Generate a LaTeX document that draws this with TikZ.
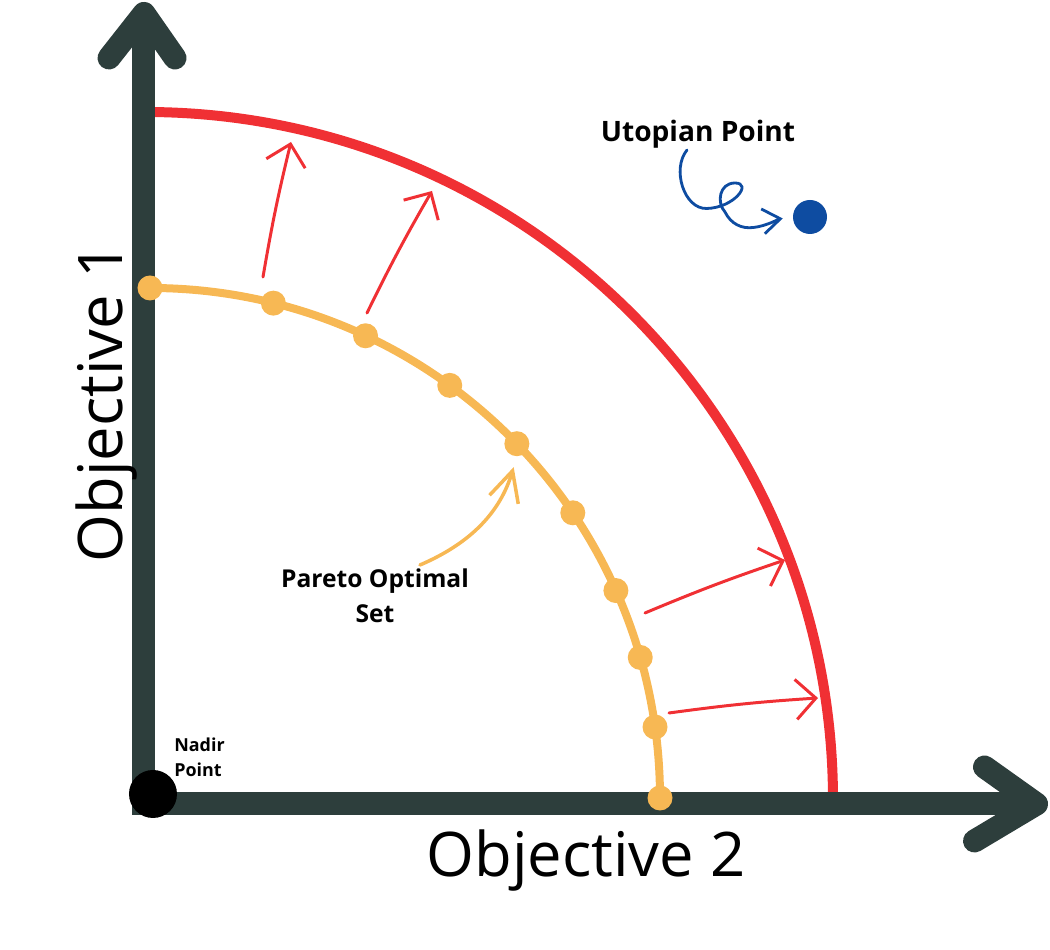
\documentclass[tikz,border=0pt]{standalone}
\usepackage{fontspec}
\setmainfont{Open Sans}
\usetikzlibrary{arrows.meta}
\definecolor{axisgray}{RGB}{45,62,60}
\definecolor{frontred}{RGB}{240,48,52}
\definecolor{paretoyel}{RGB}{247,184,84}
\definecolor{utoblue}{RGB}{14,76,161}
\tikzset{
  axisline/.style = {draw=axisgray, line width=0.46cm},% axes
  axishead/.style = {axisline, line cap=round, line join=round},% axis tips
  frontline/.style = {draw=frontred, line width=0.2cm},% shifted front
  paretoline/.style = {draw=paretoyel, line width=0.16cm},% pareto front
  pt_y/.style = {circle, fill=paretoyel, inner sep=0pt, minimum size=0.5cm},% pareto point
  pt_n/.style = {circle, fill=black, inner sep=0pt, minimum size=0.96cm},% nadir
  pt_u/.style = {circle, fill=utoblue, inner sep=0pt, minimum size=0.68cm},% utopia
  push/.style = {->, draw=frontred, line width=1.7pt, line cap=round},% red arrows
  lbl/.style = {inner sep=0pt},% labels
  axlbl/.style = {inner sep=0pt, font=\fontsize{35}{42}\selectfont}% axis names
}
\begin{document}
\begin{tikzpicture}[>={Straight Barb[length=4mm,width=8mm]}]
  \useasboundingbox (-2.88,-2.92) rectangle (18.12,16.08);
  \coordinate (o) at (0,0);
  \coordinate (ytip) at (0,15.81);
  \coordinate (xtip) at (17.85,0);
  \coordinate (rc) at (0.02,0.08);
  \coordinate (yc) at (0.12,0.12);

  % outer front
  \draw [frontline] ([shift={(0:13.76)}]rc) arc (0:90:13.76);

  % axes
  \draw [axisline] (ytip) -- (o) -- (xtip);
  \draw [axishead] ([shift={(-0.7,-0.89)}]ytip) -- (ytip) -- ([shift={(0.62,-0.89)}]ytip);
  \draw [axishead] ([shift={(-1.04,0.74)}]xtip) -- (xtip) -- ([shift={(-1.24,-0.74)}]xtip);

  % pareto front
  \draw [paretoline] ([shift={(0:10.2)}]yc) arc (0:90:10.2);
  \foreach \a [count=\i] in {90,76,65,54,44,34,24,16,8,0}
    \node [pt_y] (p\i) at ([shift={(\a:10.2)}]yc) {};

  \node [pt_n] (nadir) at (0.18,0.2) {};
  \node [pt_u] (uto) at (13.32,11.74) {};

  % red arrows
  \coordinate (s1) at (2.38,10.54); \coordinate (t1) at (2.94,13.24);
  \coordinate (s2) at (4.46,9.82);  \coordinate (t2) at (5.76,12.26);
  \coordinate (s3) at (10.02,3.82); \coordinate (t3) at (12.82,4.88);
  \coordinate (s4) at (10.5,1.82);  \coordinate (t4) at (13.48,2.12);
  \foreach \from/\to in {s1/t1,s2/t2,s3/t3,s4/t4}
    \draw [push] (\from) to[bend left=2] (\to);

  % pointers
  \coordinate (pcurl) at (5.52,4.78);
  \draw [-{Straight Barb[length=6mm,width=6mm]}, draw=paretoyel, line width=2pt,
    line cap=round, shorten >=0.22cm] (pcurl) to[bend right=25] (p5.south);
  \coordinate (ucurl) at (10.86,13.08);
  \draw [-{Straight Barb[length=3.5mm,width=5mm]}, draw=utoblue, line width=1.6pt,
    line cap=round, shorten >=0.2cm] (ucurl)
    .. controls (10.55,12.7) and (10.8,11.9) .. (11.25,11.91)
    .. controls (11.8,11.92) and (12.18,12.42) .. (11.82,12.42)
    .. controls (11.5,12.42) and (11.45,12.02) .. (11.62,11.84)
    .. controls (11.74,11.6) and (11.95,11.5) .. (12.19,11.53)
    .. controls (12.45,11.56) and (12.7,11.7) .. (uto.west);

  % labels
  \node [lbl, font=\fontsize{16}{19}\selectfont\bfseries, anchor=base] (utolbl) at (11.08,13.24) {Utopian Point};
  \node [lbl, font=\fontsize{14}{20.4}\selectfont\bfseries, align=center, anchor=north] (parlbl) at (4.62,4.72) {Pareto Optimal\\Set};
  \node [lbl, font=\fontsize{10.2}{14.2}\selectfont\bfseries, align=left, anchor=north west] (nadlbl) at (0.6,1.32) {Nadir\\Point};
  \node [axlbl, anchor=base] (obj2) at (8.84,-1.46) {Objective 2};
  \node [axlbl, rotate=90, anchor=base] (obj1) at (-0.42,8.02) {Objective 1};
\end{tikzpicture}
\end{document}
